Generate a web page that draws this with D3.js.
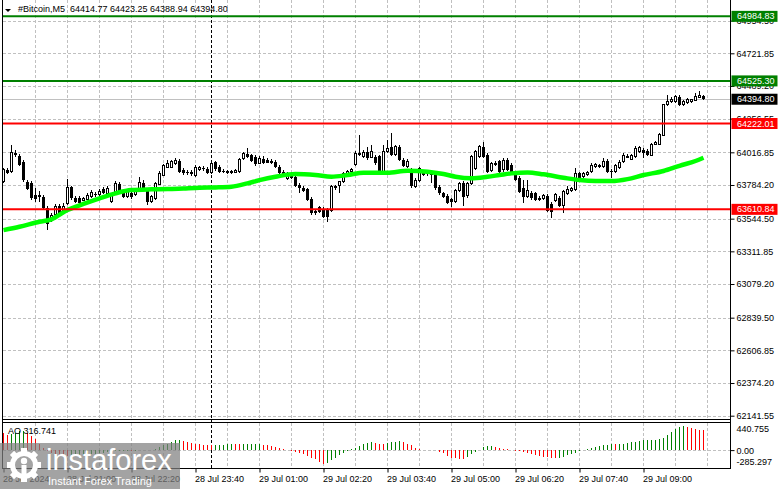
<!DOCTYPE html>
<html>
<head>
<meta charset="utf-8">
<script src="https://cdn.jsdelivr.net/npm/d3@7"></script>
<style>
  body { margin: 0; background: #fff; }
  svg text { font-family: "Liberation Sans", Arial, sans-serif; }
</style>
</head>
<body>
<svg id="chart" width="781" height="489"></svg>
<script>
// header / quote
const symbol = '#Bitcoin,M5';
const lastQuote = [64414.77, 64423.25, 64388.94, 64394.80];
const bidPrice = 64394.80;

// M5 candles, 28 Jul 19:40 .. 29 Jul 10:15
const open = [63807,63891,63879,64014,63990,63950,63807,63796,63713,63713,
  63701,63618,63530,63577,63634,63606,63649,63768,63689,63689,
  63677,63682,63701,63720,63713,63753,63725,63665,63725,63791,
  63743,63701,63729,63713,63743,63800,63748,63665,63689,63791,
  63855,63910,63910,63938,63957,63891,63876,63879,63855,63896,
  63907,63896,63871,63945,63914,63886,63881,63871,63876,63879,
  63974,64005,63998,63985,63940,63969,63962,63957,63950,63914,
  63879,63832,63867,63843,63784,63760,63753,63686,63601,63625,
  63611,63611,63606,63777,63784,63807,63862,63879,63933,64014,
  63985,64019,63981,63981,63990,63879,64021,64057,64003,64057,
  63962,63914,63891,63777,63814,63879,63869,63867,63855,63772,
  63725,63706,63682,63665,63743,63800,63706,63796,63903,63985,
  64057,63997,63886,63938,63955,63891,63962,63926,63855,63832,
  63760,63701,63725,63725,63693,63689,63706,63649,63677,63689,
  63636,63725,63748,63755,63867,63843,63860,63879,63914,63914,
  63914,63955,63883,63883,63907,63950,63993,63969,63985,64021,
  64033,64026,63997,64074,64074,64140,64354,64377,64377,64413,
  64358,64373,64377,64389,64410,64414.77];
const high = [63905,63905,64069,64033,64005,63962,63819,63812,63762,63741,
  63713,63634,63584,63649,63649,63656,63824,63777,63706,63706,
  63698,63727,63748,63734,63755,63770,63777,63720,63815,63805,
  63755,63748,63741,63762,63839,63819,63755,63713,63805,63884,
  63933,63962,63962,63974,63969,63905,63891,63891,63926,63919,
  63919,63912,63948,63957,63926,63898,63891,63891,63898,63976,
  64019,64045,64005,63998,63990,63990,63976,63969,63962,63926,
  63891,63876,63876,63855,63798,63777,63762,63698,63613,63634,
  63627,63620,63784,63784,63812,63876,63891,63905,64026,64140,
  64033,64057,64069,63997,63997,64069,64104,64156,64069,64069,
  63976,63969,63905,63834,63912,63891,63884,63876,63862,63784,
  63734,63720,63691,63755,63805,63812,63805,63997,64033,64069,
  64092,64012,63948,63955,63962,63976,63976,63940,63869,63848,
  63819,63819,63741,63734,63706,63720,63720,63663,63727,63706,
  63748,63777,63770,63907,63876,63876,63883,63940,63940,63933,
  63976,63969,63898,63933,63962,64012,64005,64005,64061,64061,
  64047,64040,64083,64097,64154,64361,64425,64410,64425,64425,
  64389,64403,64396,64437,64453,64423.25];
const low = [63800,63862,63869,63983,63919,63805,63748,63677,63663,63663,
  63606,63463,63520,63570,63577,63592,63641,63677,63656,63649,
  63670,63677,63691,63698,63706,63720,63720,63656,63713,63727,
  63691,63691,63684,63706,63734,63741,63641,63656,63677,63784,
  63848,63905,63905,63926,63869,63855,63855,63848,63841,63884,
  63884,63862,63862,63884,63869,63869,63862,63862,63869,63869,
  63962,63976,63948,63919,63933,63933,63940,63933,63905,63862,
  63848,63819,63827,63770,63729,63734,63670,63570,63570,63584,
  63549,63523,63592,63748,63727,63798,63848,63869,63919,63990,
  63976,63962,63976,63926,63869,63869,64012,63990,63990,63955,
  63912,63905,63760,63762,63805,63848,63848,63798,63748,63713,
  63691,63649,63625,63656,63734,63634,63691,63784,63891,63976,
  63976,63869,63876,63919,63841,63877,63884,63869,63812,63727,
  63654,63691,63677,63670,63670,63677,63592,63547,63663,63627,
  63582,63713,63734,63741,63812,63834,63848,63869,63905,63905,
  63905,63869,63836,63869,63898,63940,63976,63962,63976,64012,
  63978,63990,63990,64069,64069,64133,64346,64368,64368,64346,
  64346,64361,64368,64382,64403,64388.94];
const close = [63896,63871,64014,63995,63926,63819,63753,63689,63682,63696,
  63618,63506,63570,63634,63582,63634,63768,63689,63665,63658,
  63689,63711,63729,63711,63736,63725,63760,63713,63796,63736,
  63701,63736,63696,63748,63800,63748,63665,63701,63796,63867,
  63926,63938,63955,63962,63879,63867,63867,63860,63907,63907,
  63898,63871,63938,63896,63879,63876,63871,63881,63886,63967,
  64010,63985,63957,63933,63972,63943,63943,63943,63914,63871,
  63855,63867,63832,63777,63760,63743,63677,63582,63582,63594,
  63558,63558,63777,63760,63807,63867,63879,63896,64010,63998,
  64019,63974,64026,63938,63879,64021,64045,63998,64057,63962,
  63919,63955,63777,63819,63903,63855,63876,63855,63760,63725,
  63701,63658,63665,63748,63796,63701,63796,63985,64021,64057,
  63985,63879,63938,63926,63876,63962,63891,63879,63819,63736,
  63701,63748,63689,63677,63677,63708,63599,63594,63713,63636,
  63736,63755,63760,63867,63819,63867,63874,63926,63931,63926,
  63955,63874,63874,63926,63945,63997,63978,63993,64045,64049,
  64010,63997,64074,64088,64145,64354,64382,64396,64413,64354,
  64377,64391,64391,64415,64420,64394.80];

// moving average, read at sampled bars
const maBars = [0,4,9,12,16,20,24,28,32,37,41,45,49,53,57,61,64,68,73,78,82,86,90,96,101,106,
  110,113,117,121,124,127,131,135,140,144,148,152,156,160,165,169,173,175];
const maValues = [63463,63487,63523,63540,63606,63649,63689,63725,63748,63753,63755,63760,63765,
  63767,63772,63796,63819,63843,63862,63855,63843,63855,63871,63871,63886,63879,63862,63843,63832,
  63843,63855,63867,63874,63860,63836,63819,63812,63812,63826,63855,63884,63921,63955,63978];

// Awesome Oscillator
const ao = [270,245,255,280,300,310,280,230,175,105,
  40,-20,-45,-65,-80,-90,-95,-92,-88,-84,
  -78,-72,-66,-60,-52,-44,-36,-28,-20,-15,
  -12,-10,-12,-9,-6,-3,2,8,20,52,
  78,104,130,155,166,145,130,114,104,94,
  88,83,78,81,85,89,92,95,93,91,
  94,97,100,103,105,88,78,63,42,26,
  11,2,-11,-26,-42,-63,-94,-120,-146,-182,
  -228,-200,-156,-120,-78,-42,-11,11,26,63,
  94,114,125,120,104,94,114,125,136,146,
  130,104,78,37,11,3,1,-2,-5,-26,
  -52,-94,-120,-130,-136,-138,-105,-63,-26,3,
  42,63,68,52,37,16,11,-5,-11,-16,
  -26,-42,-63,-78,-88,-105,-114,-120,-125,-120,
  -105,-83,-63,-42,-11,5,11,26,42,63,
  78,88,94,91,99,105,114,125,136,146,
  156,159,162,166,177,198,234,286,336,370,
  378,362,352,338,325,316.741];

// levels drawn on the chart
const resistanceLevels = [64984.83, 64525.30];
const supportLevels = [64222.01, 63610.84];

// axes
const priceTicks = [64954.50, 64721.85, 64489.20, 64256.55, 64016.85, 63784.20, 63544.50,
  63311.85, 63079.20, 62839.50, 62606.85, 62374.20, 62141.55];
const aoTicks = [440.755, 0, -285.297];
const aoTickText = ['440.755', '0.00', '-285.297'];
const timeBars = [0, 16, 32, 48, 64, 80, 96, 112, 128, 144, 160];
const timeLabels = ['28 Jul 2024', '28 Jul 21:00', '28 Jul 22:20', '28 Jul 23:40', '29 Jul 01:00',
  '29 Jul 02:20', '29 Jul 03:40', '29 Jul 05:00', '29 Jul 06:20', '29 Jul 07:40', '29 Jul 09:00'];
const daySeparatorBar = 52;

const svg = d3.select('#chart');
const left = 2.5, right = 730.5, mainBottom = 419.5, aoTop = 422.5, aoBottom = 468.5;

const x = d3.scaleLinear().domain([0, open.length - 1]).range([3.5, 3.5 + 4 * (open.length - 1)]);
const y = d3.scaleLinear().domain([62114.5, 65101.35]).range([mainBottom, 0]);
const yAo = d3.scaleLinear().domain([-285.297, 440.755]).range([468, 422.5]);

svg.append('rect').attr('width', 781).attr('height', 489).attr('fill', '#fff');

// grid
const gridBars = d3.range(8, open.length + 1, 8);
const grid = svg.append('g').attr('stroke', '#c0c0c0').attr('stroke-dasharray', '3,2')
  .attr('shape-rendering', 'crispEdges');
grid.selectAll('.gx').data(gridBars).enter().append('line')
  .attr('x1', d => x(d)).attr('x2', d => x(d)).attr('y1', 0).attr('y2', mainBottom);
grid.selectAll('.gxa').data(gridBars).enter().append('line')
  .attr('x1', d => x(d)).attr('x2', d => x(d)).attr('y1', aoTop).attr('y2', aoBottom);
grid.selectAll('.gy').data(priceTicks).enter().append('line')
  .attr('x1', left).attr('x2', right).attr('y1', d => Math.round(y(d)) + 0.5).attr('y2', d => Math.round(y(d)) + 0.5);
grid.append('line').attr('x1', left).attr('x2', right)
  .attr('y1', Math.round(yAo(0)) + 0.5).attr('y2', Math.round(yAo(0)) + 0.5);

// day separator
svg.append('line')
  .attr('x1', x(daySeparatorBar)).attr('x2', x(daySeparatorBar))
  .attr('y1', 0).attr('y2', aoBottom)
  .attr('stroke', '#000').attr('stroke-dasharray', '3,2').attr('shape-rendering', 'crispEdges');

// bid line
svg.append('line').attr('x1', left).attr('x2', right)
  .attr('y1', Math.round(y(bidPrice)) + 0.5).attr('y2', Math.round(y(bidPrice)) + 0.5)
  .attr('stroke', '#c0c0c0').attr('shape-rendering', 'crispEdges');

// candles
const candles = svg.append('g').attr('shape-rendering', 'crispEdges');
const idx = d3.range(open.length);
candles.selectAll('.wick').data(idx).enter().append('line')
  .attr('x1', i => x(i)).attr('x2', i => x(i))
  .attr('y1', i => y(high[i])).attr('y2', i => y(low[i]))
  .attr('stroke', '#000');
candles.selectAll('.body').data(idx).enter().append('rect')
  .attr('x', i => close[i] >= open[i] ? x(i) - 1 : x(i) - 1.5)
  .attr('width', i => close[i] >= open[i] ? 2 : 3)
  .attr('y', i => y(Math.max(open[i], close[i])))
  .attr('height', i => Math.max(1, y(Math.min(open[i], close[i])) - y(Math.max(open[i], close[i]))))
  .attr('fill', i => close[i] >= open[i] ? '#fff' : '#000')
  .attr('stroke', i => close[i] >= open[i] ? '#000' : 'none');

// moving average
const maLine = d3.line().x(d => x(d[0])).y(d => y(d[1])).curve(d3.curveMonotoneX);
svg.append('path')
  .attr('d', maLine(maBars.map((b, i) => [b, maValues[i]])))
  .attr('fill', 'none').attr('stroke', '#00ff00').attr('stroke-width', 4.5);

// levels
svg.selectAll('.res').data(resistanceLevels).enter().append('line')
  .attr('x1', left).attr('x2', right).attr('y1', d => y(d)).attr('y2', d => y(d))
  .attr('stroke', '#008000').attr('stroke-width', 2);
svg.selectAll('.sup').data(supportLevels).enter().append('line')
  .attr('x1', left).attr('x2', right).attr('y1', d => y(d)).attr('y2', d => y(d))
  .attr('stroke', '#ff0000').attr('stroke-width', 2);

// AO histogram
svg.append('g').attr('shape-rendering', 'crispEdges')
  .selectAll('line').data(ao).enter().append('line')
  .attr('x1', (d, i) => x(i)).attr('x2', (d, i) => x(i))
  .attr('y1', yAo(0)).attr('y2', d => yAo(d))
  .attr('stroke', (d, i) => i > 0 && d >= ao[i - 1] ? '#008000' : '#ff0000');

// frames
const frame = svg.append('g').attr('stroke', '#000').attr('shape-rendering', 'crispEdges');
frame.append('line').attr('x1', left).attr('x2', left).attr('y1', 0).attr('y2', aoBottom);
frame.append('line').attr('x1', right).attr('x2', right).attr('y1', 0).attr('y2', aoBottom);
[mainBottom, aoTop, aoBottom].forEach(v =>
  frame.append('line').attr('x1', left).attr('x2', right).attr('y1', v).attr('y2', v));

// price axis
const priceAxis = svg.append('g').attr('transform', `translate(${right},0)`)
  .call(d3.axisRight(y).tickValues(priceTicks).tickFormat(d3.format('.2f')).tickSize(4).tickPadding(2));
priceAxis.select('.domain').remove();
priceAxis.selectAll('text').attr('font-size', 9).attr('fill', '#000')
  .attr('font-family', '"Liberation Sans", Arial, sans-serif');

const aoAxis = svg.append('g').attr('transform', `translate(${right},0)`)
  .call(d3.axisRight(yAo).tickValues(aoTicks).tickFormat((d, i) => aoTickText[i]).tickSize(4).tickPadding(2));
aoAxis.select('.domain').remove();
aoAxis.selectAll('text').attr('font-size', 9).attr('fill', '#000')
  .attr('font-family', '"Liberation Sans", Arial, sans-serif')
  .attr('dy', (d, i) => i === 0 ? '1.05em' : i === aoTicks.length - 1 ? '-0.35em' : '0.32em');
aoAxis.selectAll('.tick line').filter((d, i) => i !== 1).remove();

// time axis
const timeAxis = svg.append('g').attr('transform', `translate(0,${aoBottom})`)
  .call(d3.axisBottom(x).tickValues(timeBars).tickFormat((d, i) => timeLabels[i]).tickSize(4).tickPadding(3));
timeAxis.select('.domain').remove();
timeAxis.selectAll('text').attr('font-size', 9).attr('fill', '#000')
  .attr('font-family', '"Liberation Sans", Arial, sans-serif')
  .attr('text-anchor', 'start').attr('x', -1);

// level price boxes
function priceBox(value, color) {
  const g = svg.append('g').attr('transform', `translate(${right + 1},${y(value)})`);
  g.append('rect').attr('x', 0).attr('y', -5.5).attr('width', 46).attr('height', 11).attr('fill', color);
  g.append('text').attr('x', 5.5).attr('dy', '0.34em').attr('font-size', 9).attr('fill', '#fff')
    .text(d3.format('.2f')(value));
}
resistanceLevels.forEach(v => priceBox(v, '#008000'));
supportLevels.forEach(v => priceBox(v, '#ff0000'));
priceBox(bidPrice, '#000');

// header
svg.append('path').attr('d', 'M5,9 L11,9 L8,12 Z').attr('fill', '#000');
svg.append('text').attr('x', 18).attr('y', 11.5).attr('font-size', 9).attr('fill', '#000')
  .style('white-space', 'pre')
  .text(`${symbol}  ${lastQuote.map(d3.format('.2f')).join(' ')}`);
svg.append('text').attr('x', 8).attr('y', 434).attr('font-size', 9).attr('fill', '#000')
  .text(`AO ${d3.format('.3f')(ao[ao.length - 1])}`);

// watermark
const wm = svg.append('g');
wm.append('rect').attr('x', 0).attr('y', 443).attr('width', 180).attr('height', 46)
  .attr('fill', '#808080').attr('opacity', 0.72);
const logo = wm.append('g').attr('transform', 'translate(24,465)').attr('fill', '#fff');
d3.range(8).forEach(k => {
  logo.append('rect').attr('x', -3).attr('y', -17).attr('width', 6).attr('height', 7)
    .attr('transform', `rotate(${k * 45})`);
});
logo.append('circle').attr('r', 11.5).attr('fill', 'none').attr('stroke', '#fff').attr('stroke-width', 5);
logo.append('circle').attr('cy', -4).attr('r', 3.2);
logo.append('rect').attr('x', -2.5).attr('y', 0).attr('width', 5).attr('height', 10);
wm.append('text').attr('x', 46).attr('y', 470).attr('font-size', 29).attr('fill', '#fff')
  .attr('font-family', 'Lato, "Open Sans", sans-serif').attr('font-weight', 400)
  .text('instaforex');
wm.append('text').attr('x', 48).attr('y', 485).attr('font-size', 11).attr('fill', '#fff')
  .attr('font-family', 'Lato, "Open Sans", sans-serif')
  .text('Instant Forex Trading');
</script>
</body>
</html>
